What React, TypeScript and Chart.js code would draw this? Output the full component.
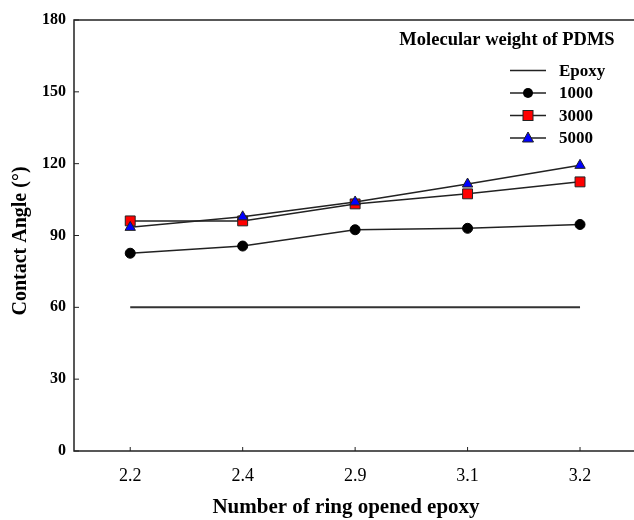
import React, { useEffect, useRef } from 'react';
import { Chart, registerables } from 'chart.js';

Chart.register(...registerables);

const categories = ['2.2', '2.4', '2.9', '3.1', '3.2'];
const epoxy = [60, 60, 60, 60, 60];
const mw1000 = [82.6, 85.6, 92.4, 93.0, 94.6];
const mw3000 = [96.1, 96.1, 103.2, 107.4, 112.4];
const mw5000 = [93.4, 97.8, 104.0, 111.5, 119.3];
const yMin = 0;
const yMax = 180;
const yStep = 30;
const legendTitle = 'Molecular weight of PDMS';
const seriesNames = ['Epoxy', '1000', '3000', '5000'];
const xTitle = 'Number of ring opened epoxy';
const yTitle = 'Contact Angle (°)';

const FONT = '"Liberation Serif", "Times New Roman", serif';
const LINE = '#222222';

function drawMarker(ctx: CanvasRenderingContext2D, kind: string, x: number, y: number) {
  ctx.save();
  ctx.lineWidth = 1;
  ctx.strokeStyle = LINE;
  if (kind === 'circle') {
    ctx.fillStyle = '#000000';
    ctx.beginPath();
    ctx.arc(x, y, 5, 0, Math.PI * 2);
    ctx.fill();
  } else if (kind === 'rect') {
    ctx.fillStyle = '#ff0000';
    ctx.fillRect(x - 5, y - 5, 10, 10);
    ctx.strokeRect(x - 5, y - 5, 10, 10);
  } else if (kind === 'triangle') {
    ctx.fillStyle = '#0000ff';
    ctx.beginPath();
    ctx.moveTo(x, y - 6);
    ctx.lineTo(x + 5.5, y + 4);
    ctx.lineTo(x - 5.5, y + 4);
    ctx.closePath();
    ctx.fill();
    ctx.stroke();
  }
  ctx.restore();
}

const decorPlugin = {
  id: 'decor',
  afterDraw(chart: any) {
    const ctx: CanvasRenderingContext2D = chart.ctx;
    const { left, right, top, bottom } = chart.chartArea;
    const xs = chart.scales.x;
    const ys = chart.scales.y;
    ctx.save();
    // frame
    ctx.strokeStyle = LINE;
    ctx.lineWidth = 1.5;
    ctx.beginPath();
    ctx.moveTo(left, top);
    ctx.lineTo(right, top);
    ctx.lineTo(right, bottom);
    ctx.lineTo(left, bottom);
    ctx.closePath();
    ctx.stroke();
    // inward ticks
    ctx.lineWidth = 1;
    ctx.beginPath();
    for (let v = yMin; v <= yMax; v += yStep) {
      const py = ys.getPixelForValue(v);
      ctx.moveTo(left, py);
      ctx.lineTo(left + 5, py);
    }
    categories.forEach((_, i) => {
      const px = xs.getPixelForValue(i);
      ctx.moveTo(px, bottom);
      ctx.lineTo(px, bottom - 4);
    });
    ctx.stroke();

    // axis titles
    ctx.fillStyle = '#000';
    ctx.textAlign = 'center';
    ctx.textBaseline = 'middle';
    ctx.font = `bold 21px ${FONT}`;
    ctx.fillText(xTitle, 346, 508);
    ctx.save();
    ctx.translate(21, 241);
    ctx.rotate(-Math.PI / 2);
    ctx.font = `bold 20px ${FONT}`;
    ctx.fillText(yTitle, 0, 0);
    ctx.restore();

    // legend
    ctx.font = `bold 18.5px ${FONT}`;
    ctx.textAlign = 'center';
    ctx.fillText(legendTitle, 507, 40);
    const rows = [70.5, 93, 115.5, 138];
    const kinds = ['none', 'circle', 'rect', 'triangle'];
    ctx.font = `bold 17px ${FONT}`;
    ctx.textAlign = 'left';
    rows.forEach((ry, i) => {
      ctx.strokeStyle = LINE;
      ctx.lineWidth = 1.5;
      ctx.beginPath();
      ctx.moveTo(510, ry);
      ctx.lineTo(546, ry);
      ctx.stroke();
      if (kinds[i] !== 'none') drawMarker(ctx, kinds[i], 528, ry);
      ctx.fillStyle = '#000';
      ctx.fillText(seriesNames[i], 559, ry + 1);
    });
    ctx.restore();
  },
};

export default function App() {
  const ref = useRef<HTMLCanvasElement | null>(null);
  useEffect(() => {
    if (!ref.current) return;
    const chart = new Chart(ref.current, {
      type: 'line',
      data: {
        labels: categories,
        datasets: [
          {
            label: seriesNames[0],
            data: epoxy,
            borderColor: '#333333',
            borderWidth: 2,
            pointRadius: 0,
            order: 3,
          },
          {
            label: seriesNames[1],
            data: mw1000,
            borderColor: LINE,
            borderWidth: 1.5,
            pointStyle: 'circle',
            pointRadius: 5,
            pointBackgroundColor: '#000000',
            pointBorderColor: '#000000',
            pointBorderWidth: 1,
            order: 2,
          },
          {
            label: seriesNames[2],
            data: mw3000,
            borderColor: LINE,
            borderWidth: 1.5,
            pointStyle: 'rect',
            pointRadius: 7,
            pointBackgroundColor: '#ff0000',
            pointBorderColor: LINE,
            pointBorderWidth: 1,
            order: 1,
          },
          {
            label: seriesNames[3],
            data: mw5000,
            borderColor: LINE,
            borderWidth: 1.5,
            pointStyle: 'triangle',
            pointRadius: 6,
            pointBackgroundColor: '#0000ff',
            pointBorderColor: LINE,
            pointBorderWidth: 1,
            order: 0,
          },
        ],
      },
      options: {
        animation: false,
        responsive: false,
        devicePixelRatio: 1,
        layout: { padding: { top: 20, right: 23.75, left: 0, bottom: 0 } },
        plugins: { legend: { display: false }, tooltip: { enabled: false } },
        scales: {
          x: {
            type: 'category',
            offset: true,
            grid: { display: false, drawTicks: false },
            border: { display: false },
            ticks: { color: '#000', font: { family: FONT, size: 18 }, padding: 14, maxRotation: 0 },
            afterFit: (s: any) => { s.height = 69; },
          },
          y: {
            min: yMin,
            max: yMax,
            grid: { display: false, drawTicks: false },
            border: { display: false },
            ticks: { stepSize: yStep, color: '#000', font: { family: FONT, size: 16, weight: 'bold' }, padding: 8 },
            afterFit: (s: any) => { s.width = 74; },
          },
        },
      },
      plugins: [decorPlugin],
    });
    return () => chart.destroy();
  }, []);
  return (
    <div style={{ position: 'fixed', left: 0, top: 0, width: 634, height: 520, overflow: 'hidden', background: '#fff' }}>
      <canvas ref={ref} width={660} height={520} style={{ display: 'block', width: 660, height: 520 }} />
    </div>
  );
}
